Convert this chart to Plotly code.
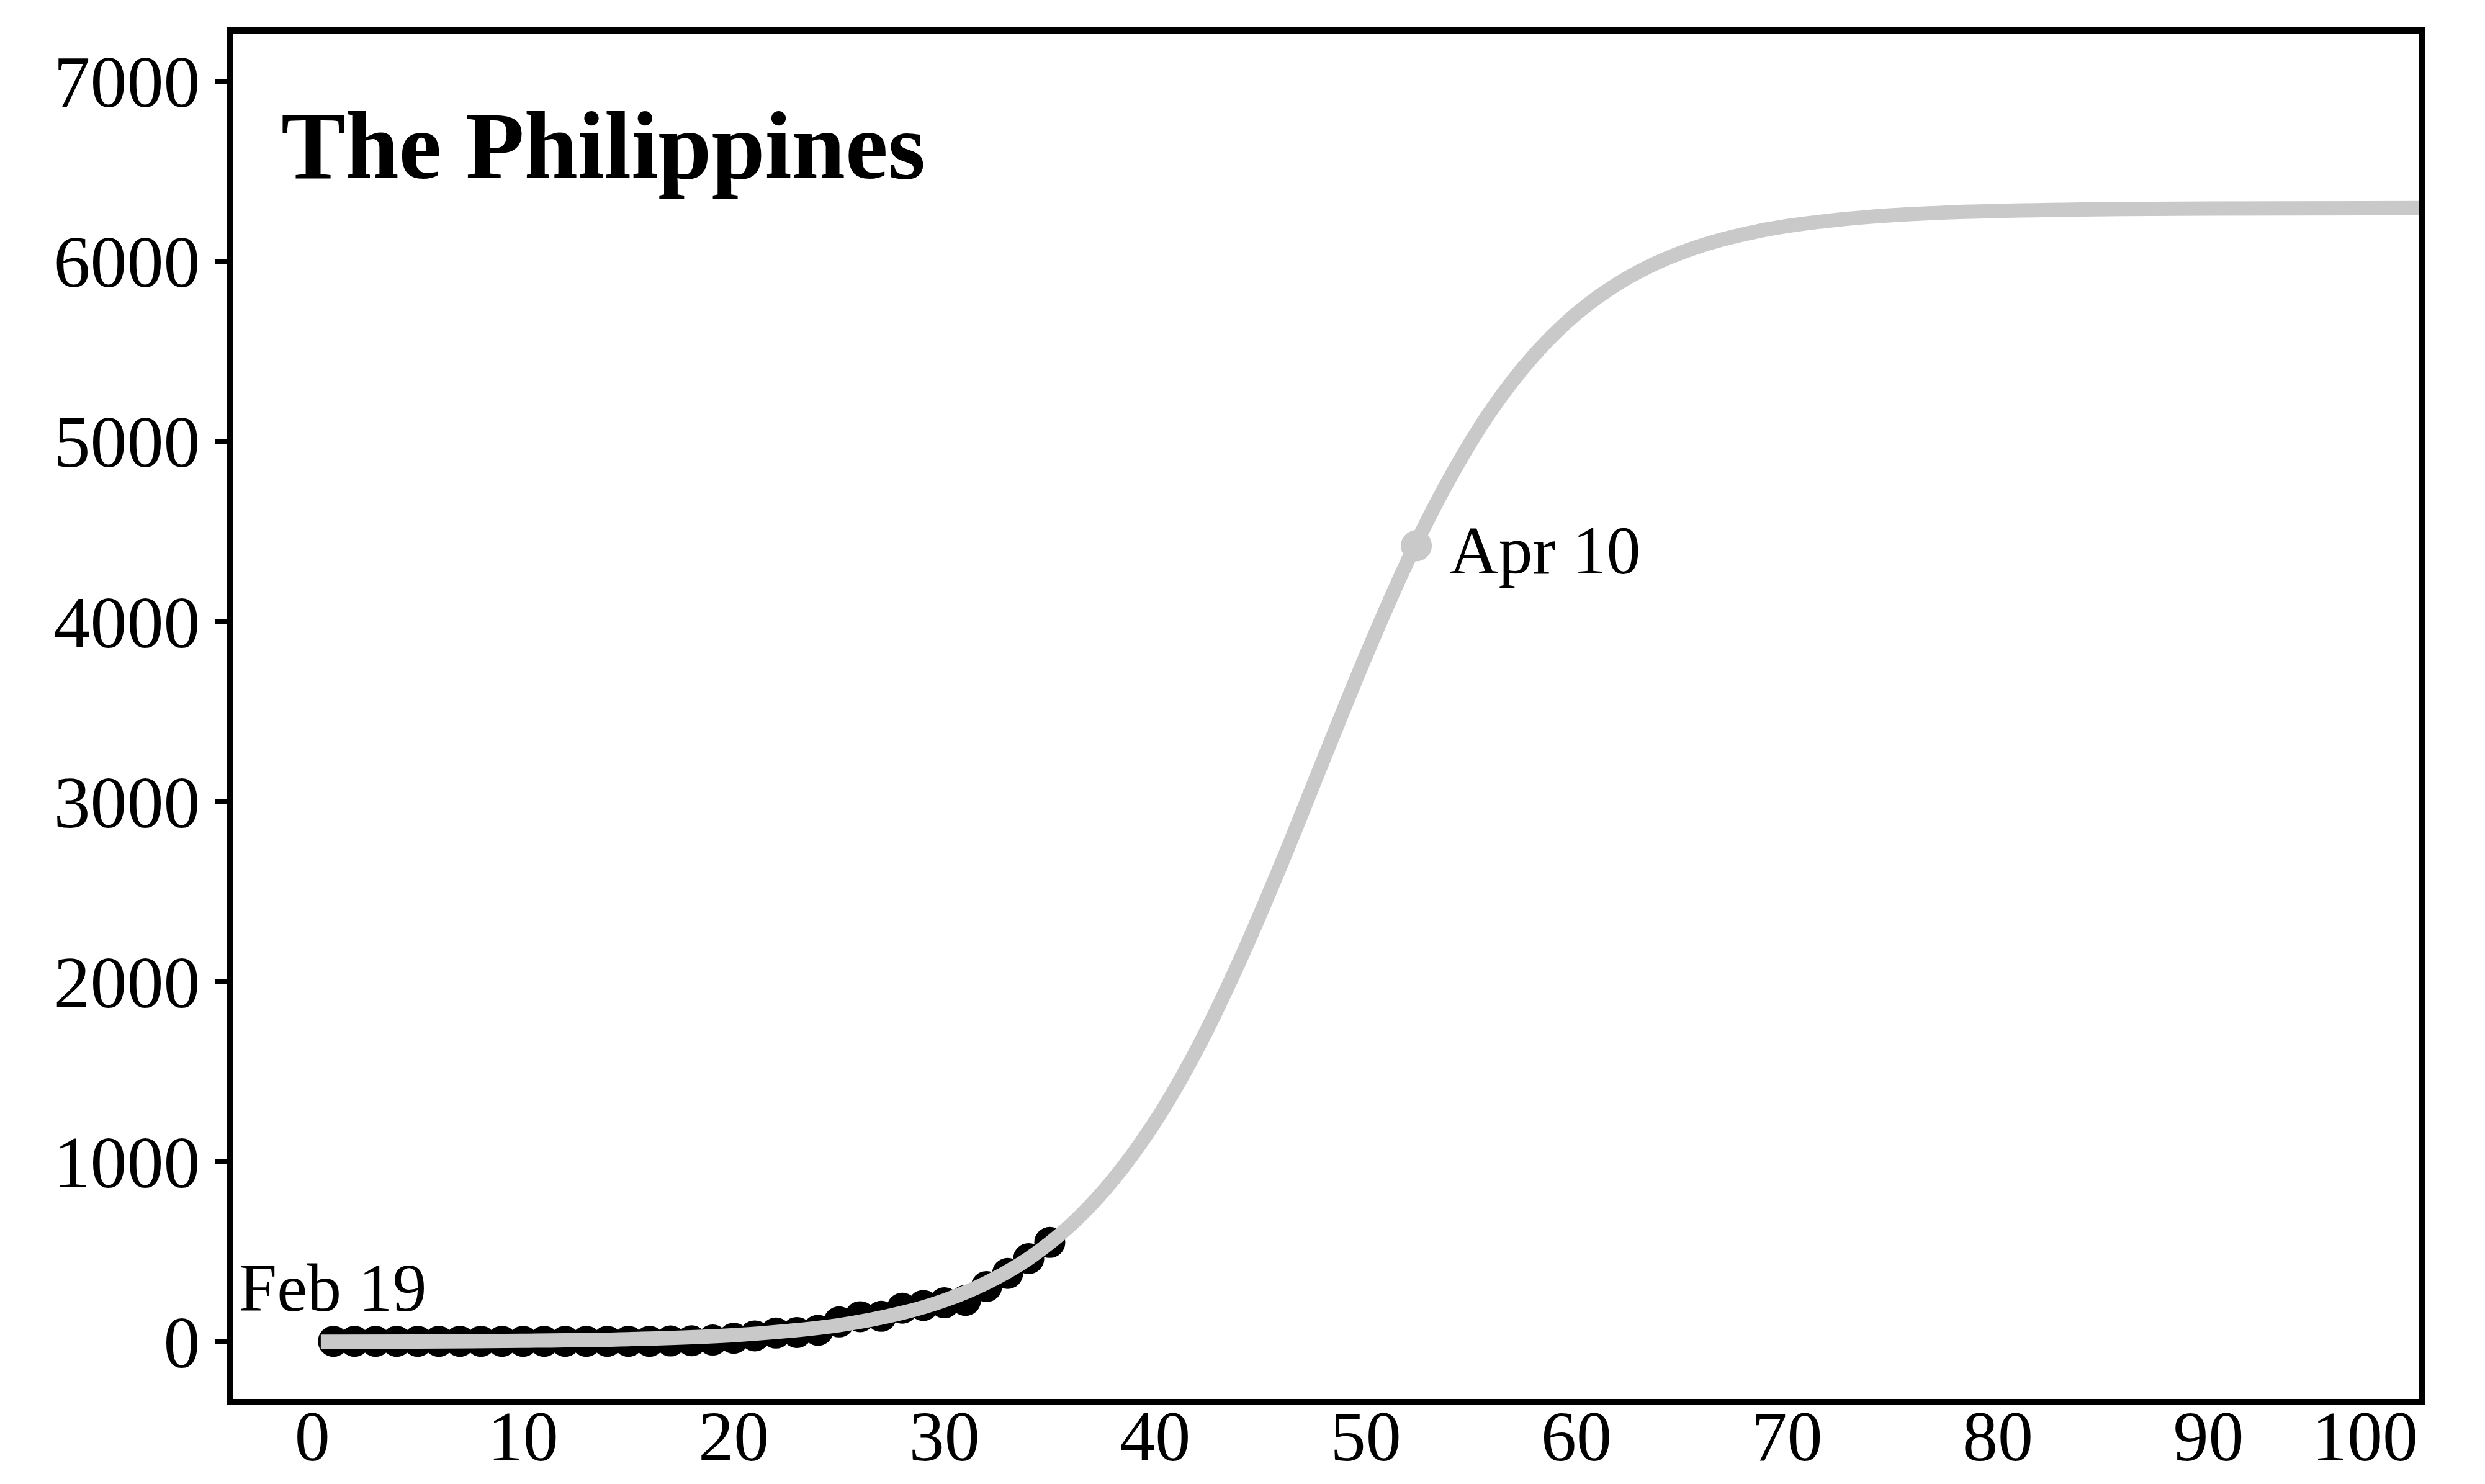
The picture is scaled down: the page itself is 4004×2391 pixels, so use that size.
import plotly.graph_objects as go

# Observed daily cumulative cases (day 1 = Feb 19)
obs_days = list(range(1, 36))
obs_cases = [3, 3, 3, 3, 3, 3, 3, 3, 3, 3, 3, 3, 3, 3, 3, 3, 5, 6, 10, 20,
             33, 49, 52, 64, 111, 140, 142, 187, 202, 217, 230, 307, 380, 462, 552]

# Fitted curve
fit_days = [0.4, 5, 10, 15, 20, 25, 28, 30, 32, 34, 36, 38, 40, 42, 44, 46, 48,
            50, 52, 54, 56, 58, 60, 62, 64, 66, 68, 70, 74, 78, 84, 90, 100]
fit_cases = [1, 2, 6, 15, 37, 93, 161, 230, 328, 463, 649, 899, 1222, 1627, 2112,
             2656, 3235, 3808, 4338, 4798, 5180, 5480, 5709, 5878, 6001, 6089,
             6151, 6195, 6247, 6272, 6287, 6292, 6295]

marker_day = [52.4]
marker_cases = [4420]

x_ticks = [0, 10, 20, 30, 40, 50, 60, 70, 80, 90, 100]
x_tick_labels = ["0", "10", "20", "30", "40", "50", "60", "70", "80", "90", "100"]
y_ticks = [0, 1000, 2000, 3000, 4000, 5000, 6000, 7000]

title_text = "The Philippines"
start_label = "Feb 19"
end_label = "Apr 10"

FONT = "Liberation Serif"
GRAY = "#c9c9c9"

fig = go.Figure()
fig.add_trace(go.Scatter(x=obs_days, y=obs_cases, mode="markers",
                         marker=dict(color="black", size=50, line=dict(width=0)),
                         showlegend=False, hoverinfo="skip"))
fig.add_trace(go.Scatter(x=fit_days, y=fit_cases, mode="lines",
                         line=dict(color=GRAY, width=23, shape="spline"),
                         showlegend=False, hoverinfo="skip"))
fig.add_trace(go.Scatter(x=marker_day, y=marker_cases, mode="markers",
                         marker=dict(color=GRAY, size=50, line=dict(width=0)),
                         showlegend=False, hoverinfo="skip"))

fig.add_annotation(x=-1.55, y=6640, text="<b>" + title_text + "</b>", showarrow=False,
                   xanchor="left", yanchor="middle",
                   font=dict(family=FONT, size=155, color="black"))
fig.add_annotation(x=-3.55, y=300, text=start_label, showarrow=False,
                   xanchor="left", yanchor="middle",
                   font=dict(family=FONT, size=110, color="black"))
fig.add_annotation(x=53.9, y=4392, text=end_label, showarrow=False,
                   xanchor="left", yanchor="middle",
                   font=dict(family=FONT, size=110, color="black"))
# last x tick label sits flush with the right frame in the reference
fig.add_annotation(x=x_ticks[-1], xref="x", y=-0.0275, yref="paper",
                   text=x_tick_labels[-1], showarrow=False,
                   xanchor="right", yanchor="middle",
                   font=dict(family=FONT, size=114, color="black"))

fig.update_layout(
    width=4004, height=2391,
    margin=dict(l=368, r=114, t=46, b=145),
    paper_bgcolor="white", plot_bgcolor="white",
    font=dict(family=FONT, color="black"),
)
fig.update_xaxes(range=[-3.75, 100], tickvals=x_ticks[:-1], ticktext=x_tick_labels[:-1],
                 ticks="", showgrid=False, zeroline=False, automargin=False,
                 ticklabelstandoff=-48,
                 showline=True, linecolor="black", linewidth=10, mirror=True,
                 tickfont=dict(family=FONT, size=114, color="black"))
fig.update_yaxes(range=[-317, 7264], tickvals=y_ticks, ticks="outside",
                 ticklen=20, tickwidth=8, tickcolor="black",
                 showgrid=False, zeroline=False, automargin=False,
                 showline=True, linecolor="black", linewidth=10, mirror=True,
                 tickfont=dict(family=FONT, size=118, color="black"))

fig.write_html("out.html")
